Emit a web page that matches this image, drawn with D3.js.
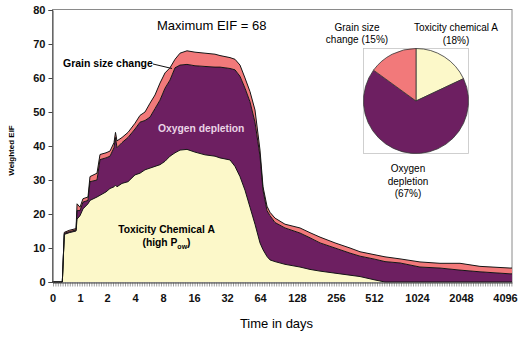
<!DOCTYPE html>
<html>
<head>
<meta charset="utf-8">
<style>
  body { margin: 0; background: #fff; }
  svg { display: block; font-family: Arial, "Liberation Sans", Helvetica, sans-serif; }
  .axis .domain { stroke: #444; }
  .axis .tick line { stroke: #444; }
  .axis .tick text { font-size: 11px; font-weight: bold; fill: #111; }
  .minor .domain { display: none; }
  .minor .tick line { stroke: #777; stroke-width: 0.7; }
</style>
</head>
<body>
<svg width="529" height="340"></svg>
<script src="https://d3js.org/d3.v7.min.js"></script>
<script>
// ---- data ----
const days = [0, 0.357, 0.429, 0.607, 0.857, 0.893, 1, 1.111, 1.296, 1.37, 1.63, 1.741, 1.963,
  2.214, 2.5, 2.607, 2.714, 3.071, 3.5, 4, 4.714, 5.429, 6.143, 6.857, 7.571, 8.516, 9.806,
  11.1, 12.39, 14.19, 16.48, 21.33, 26.18, 28.6, 34.9, 39.76, 44.6, 49.45, 54.3, 59.15, 64,
  69.19, 76.1, 81.3, 89.9, 107.2, 137.8, 170.7, 203.5, 252.7, 350.3, 417.7, 523.9, 643,
  821.6, 1093.8, 1559, 2024.7, 2932, 4329, 4420];
const toxicity = [0, 0, 14, 14.5, 15, 18.5, 19.5, 21.5, 23, 24, 25, 25.5, 26.5,
  27.5, 28, 28.5, 28, 29, 29.5, 31.5, 32, 33, 33.5, 34, 34.5, 35.5, 37,
  38, 38.8, 39, 38.2, 37.4, 37, 36.5, 35.9, 34, 31, 27, 22, 17, 11.5,
  9.5, 7.5, 6.5, 6, 5.2, 4.4, 3.7, 3.2, 2.6, 2, 1.6, 0.6, 0,
  0, 0, 0, 0, 0, 0, 0];
const oxygen = [0, 0, 0.3, 0.3, 0.3, 2.5, 1.5, 2, 1, 5.5, 5, 10.5, 10,
  9.5, 11.5, 14, 11.5, 12, 13, 13.5, 15, 14.5, 15, 17, 19, 21.5, 22.4,
  25, 25, 25, 25.4, 26, 26.2, 26.7, 26.9, 28.4, 29.5, 30, 31, 30, 25.5,
  17.5, 13.5, 13, 11.5, 10.7, 10, 9.3, 8.3, 7.4, 6.5, 6, 6.1, 6,
  5.6, 4.4, 4.1, 3.5, 3, 2.4, 2.4];
const grain = [0, 0, 0.3, 0.4, 0.4, 2, 1, 1, 1, 1.5, 2, 1.5, 1.5,
  1.5, 1.5, 1.5, 2, 1.5, 1.5, 1.7, 2, 2.5, 4.1, 4, 5, 4.5, 3.6,
  2.5, 3.5, 4, 4, 3.9, 3.8, 3.4, 3.2, 3.1, 3.3, 3, 3, 3.6, 1.8,
  1, 1.3, 1, 1.3, 1.1, 1.5, 1.5, 1.7, 1.5, 1.5, 1.3, 1.3, 1.4,
  1.2, 1.5, 1.4, 2, 1.6, 1.7, 1.7];

const xTicks = [0, 1, 2, 4, 8, 16, 32, 64, 128, 256, 512, 1024, 2048, 4096];
const xEnd = 4420;
const yTicks = [0, 10, 20, 30, 40, 50, 60, 70, 80];

const pieNames = ["Toxicity chemical A", "Oxygen depletion", "Grain size change"];
const pieShares = [18, 67, 15];

// ---- layout ----
const svg = d3.select("svg");
const colors = { tox: "#fcf8c9", oxy: "#6d1f61", grain: "#f2797a" };

// the category axis of the original is uneven, so map each labelled day to its pixel
const xTickPx = [52.5, 80, 107, 135, 163, 194, 227, 260, 297, 336, 374, 417, 461, 505, 512];
const x = d3.scaleLinear().domain([...xTicks, xEnd]).range(xTickPx);
const y = d3.scaleLinear().domain([0, 80]).range([282, 10]);

const rows = days.map((d, i) => ({ day: d, tox: toxicity[i], oxy: oxygen[i], grain: grain[i] }));
const layers = d3.stack().keys(["tox", "oxy", "grain"])(rows);

// frame
svg.append("rect")
  .attr("x", 52.5).attr("y", 9.5)
  .attr("width", 512 - 52.5).attr("height", 282 - 9.5)
  .attr("fill", "none").attr("stroke", "#8a8a8a");

const area = d3.area()
  .x(d => x(d.data.day))
  .y0(d => y(d[0]))
  .y1(d => y(d[1]));

const topLine = d3.line()
  .x(d => x(d.data.day))
  .y(d => y(d[1]));

svg.append("g").selectAll("path")
  .data(layers)
  .join("path")
  .attr("d", area)
  .attr("fill", d => colors[d.key]);

svg.append("g").selectAll("path")
  .data(layers)
  .join("path")
  .attr("d", topLine)
  .attr("fill", "none")
  .attr("stroke", "#151515")
  .attr("stroke-width", 1)
  .attr("stroke-linejoin", "round");

// minor ticks under the x axis
const minor = d3.range(53, 512, 2.4).map(p => x.invert(p));
svg.append("g")
  .attr("class", "minor")
  .attr("transform", "translate(0,282.5)")
  .call(d3.axisBottom(x).tickValues(minor).tickFormat("").tickSize(4));

svg.append("g")
  .attr("class", "axis")
  .attr("transform", "translate(0,282.5)")
  .call(d3.axisBottom(x).tickValues(xTicks).tickFormat(d3.format("d")).tickSize(0).tickPadding(12));

svg.append("g")
  .attr("class", "axis")
  .attr("transform", "translate(52.5,0)")
  .call(d3.axisLeft(y).tickValues(yTicks).tickSize(4).tickPadding(3));

// axis titles
svg.append("text")
  .attr("transform", "translate(13.5,150.5) rotate(-90)")
  .attr("text-anchor", "middle")
  .style("font-size", "8px").style("font-weight", "bold")
  .text("Weighted EIF");

svg.append("text")
  .attr("x", 276.5).attr("y", 327.5)
  .attr("text-anchor", "middle")
  .style("font-size", "13px")
  .text("Time in days");

svg.append("text")
  .attr("x", 157).attr("y", 29.5)
  .style("font-size", "13px")
  .text("Maximum EIF = 68");

// labels in the chart
svg.append("text")
  .attr("x", 63).attr("y", 67)
  .style("font-size", "10.5px").style("font-weight", "bold")
  .text("Grain size change");
svg.append("line")
  .attr("x1", 153).attr("y1", 64).attr("x2", 172).attr("y2", 68.5)
  .attr("stroke", "#111").attr("stroke-width", 1);

svg.append("text")
  .attr("x", 158).attr("y", 131.5)
  .style("font-size", "10.3px").style("font-weight", "bold")
  .style("fill", "#ead4e6")
  .text("Oxygen depletion");

svg.append("text")
  .attr("x", 166.5).attr("y", 233)
  .attr("text-anchor", "middle")
  .style("font-size", "10.3px").style("font-weight", "bold")
  .text("Toxicity Chemical A");
const pow = svg.append("text")
  .attr("x", 166.5).attr("y", 246)
  .attr("text-anchor", "middle")
  .style("font-size", "10.3px").style("font-weight", "bold");
pow.append("tspan").text("(high P");
pow.append("tspan").attr("dy", 3).style("font-size", "7px").text("ow");
pow.append("tspan").attr("dy", -3).text(")");

// ---- pie inset ----
svg.append("rect")
  .attr("x", 363.5).attr("y", 48.5)
  .attr("width", 105).attr("height", 105)
  .attr("fill", "none").attr("stroke", "#c4c4c4").attr("stroke-width", 0.8);

const pie = d3.pie().sort(null)(pieShares);
const arc = d3.arc().innerRadius(0).outerRadius(52.5);
const pieColors = [colors.tox, colors.oxy, colors.grain];

svg.append("g")
  .attr("transform", "translate(416,101)")
  .selectAll("path")
  .data(pie)
  .join("path")
  .attr("d", arc)
  .attr("fill", (d, i) => pieColors[i])
  .attr("stroke", "#333")
  .attr("stroke-width", 0.8);

function label(lines, cx, y0) {
  const t = svg.append("text").attr("text-anchor", "middle").style("font-size", "10px");
  lines.forEach((s, i) => t.append("tspan").attr("x", cx).attr("y", y0 + i * 12.5).text(s));
}
label([pieNames[0], "(" + pieShares[0] + "%)"], 456, 31);
label(["Grain size", "change (" + pieShares[2] + "%)"], 357, 30.5);
label(["Oxygen", "depletion", "(" + pieShares[1] + "%)"], 408, 172);
</script>
</body>
</html>
